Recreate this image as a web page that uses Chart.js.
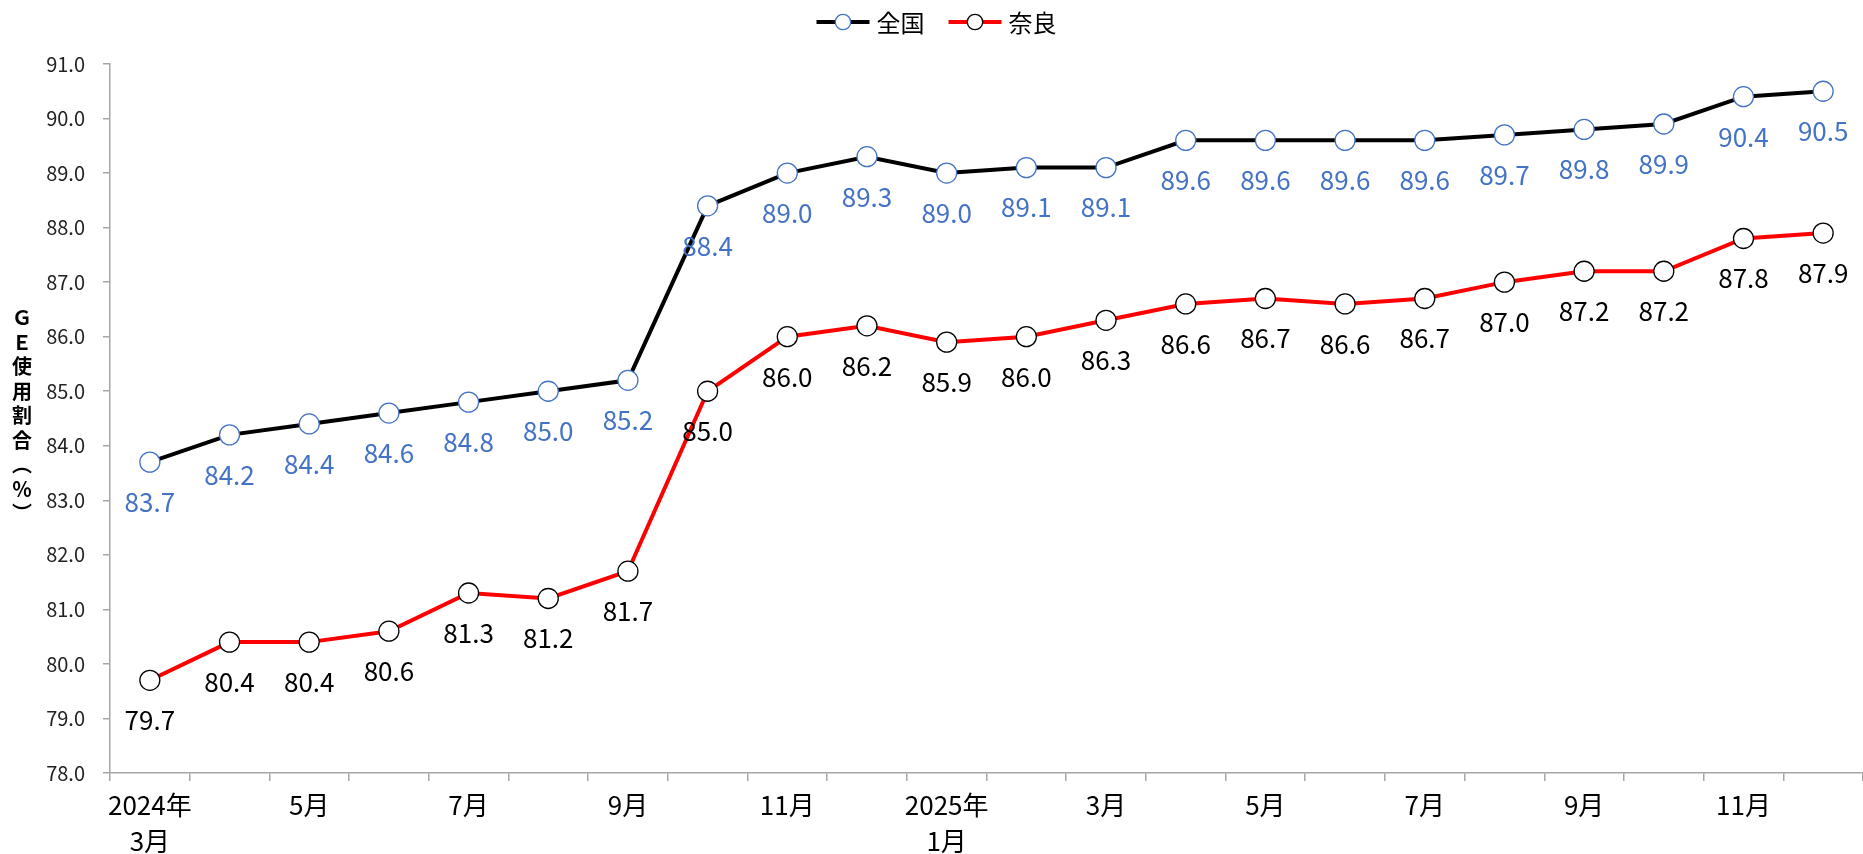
<!DOCTYPE html>
<html>
<head>
<meta charset="utf-8">
<script src="https://cdn.jsdelivr.net/npm/chart.js@4.4.1/dist/chart.umd.min.js"></script>
<style>
  html, body { margin: 0; padding: 0; background: #fff; }
  canvas { display: block; }
</style>
</head>
<body>
<canvas id="geChart" width="1863" height="854"></canvas>
<script>
/******************** DATA ********************/
const MONTH_LABELS = [
  ["2024年", "3月"], "", "5月", "", "7月", "", "9月", "", "11月", "",
  ["2025年", "1月"], "", "3月", "", "5月", "", "7月", "", "9月", "", "11月", ""
];

const ZENKOKU = [83.7, 84.2, 84.4, 84.6, 84.8, 85.0, 85.2, 88.4, 89.0, 89.3, 89.0,
                 89.1, 89.1, 89.6, 89.6, 89.6, 89.6, 89.7, 89.8, 89.9, 90.4, 90.5];
const NARA    = [79.7, 80.4, 80.4, 80.6, 81.3, 81.2, 81.7, 85.0, 86.0, 86.2, 85.9,
                 86.0, 86.3, 86.6, 86.7, 86.6, 86.7, 87.0, 87.2, 87.2, 87.8, 87.9];

const Y_MIN = 78, Y_MAX = 91;
const Y_TITLE = ["Ｇ", "Ｅ", "使", "用", "割", "合", "︵", "％", "︶"];

/******************** STYLE ********************/
const FONT = "'Noto Sans CJK JP', 'Noto Sans', sans-serif";
const AXIS_GREY = "#a6a6a6";
const BLUE = "#4472c4";

/******************** PLUGINS ********************/
// value labels under each point
const valueLabels = {
  id: "valueLabels",
  afterDatasetsDraw(chart) {
    const ctx = chart.ctx;
    ctx.save();
    ctx.font = "26px " + FONT;
    ctx.textAlign = "center";
    ctx.textBaseline = "middle";
    chart.data.datasets.forEach((ds, i) => {
      const meta = chart.getDatasetMeta(i);
      ctx.fillStyle = ds.labelColor;
      meta.data.forEach((pt, j) => {
        ctx.fillText(ds.data[j].toFixed(1), pt.x, pt.y + 40);
      });
    });
    ctx.restore();
  }
};

// legend: line + circle marker, centred on top
const lineLegend = {
  id: "lineLegend",
  afterDraw(chart) {
    const ctx = chart.ctx;
    ctx.save();
    ctx.font = "24px " + FONT;
    ctx.textBaseline = "middle";
    const y = 22;
    const lineLen = 53, gapText = 7, gapItem = 24;
    const items = chart.data.datasets.map(ds => ({
      ds, w: lineLen + gapText + ctx.measureText(ds.label).width
    }));
    const total = items.reduce((s, it) => s + it.w, 0) + gapItem * (items.length - 1);
    let x = chart.width / 2 + 5 - total / 2;
    items.forEach(it => {
      ctx.strokeStyle = it.ds.borderColor;
      ctx.lineWidth = 4;
      ctx.beginPath();
      ctx.moveTo(x, y);
      ctx.lineTo(x + lineLen, y);
      ctx.stroke();
      ctx.beginPath();
      ctx.arc(x + lineLen / 2, y, 7.7, 0, Math.PI * 2);
      ctx.fillStyle = "#fff";
      ctx.fill();
      ctx.lineWidth = 1.3;
      ctx.strokeStyle = it.ds.pointBorderColor;
      ctx.stroke();
      ctx.fillStyle = "#000";
      ctx.fillText(it.ds.label, x + lineLen + gapText, y + 1);
      x += it.w + gapItem;
    });
    ctx.restore();
  }
};

// vertical y-axis title, one character per row
const verticalTitle = {
  id: "verticalTitle",
  afterDraw(chart) {
    const ctx = chart.ctx;
    const area = chart.chartArea;
    ctx.save();
    ctx.font = "bold 20px " + FONT;
    ctx.fillStyle = "#000";
    ctx.textAlign = "center";
    ctx.textBaseline = "middle";
    const step = 24.5;
    const cy = (area.top + area.bottom) / 2 - 3;
    const y0 = cy - step * (Y_TITLE.length - 1) / 2;
    Y_TITLE.forEach((ch, i) => ctx.fillText(ch, 22, y0 + i * step));
    ctx.restore();
  }
};

/******************** CHART ********************/
new Chart(document.getElementById("geChart"), {
  type: "line",
  data: {
    labels: MONTH_LABELS,
    datasets: [
      {
        label: "全国",
        data: ZENKOKU,
        borderColor: "#000",
        borderWidth: 4,
        pointRadius: 10,
        pointBorderWidth: 1.3,
        pointBackgroundColor: "#fff",
        pointBorderColor: BLUE,
        labelColor: BLUE,
        tension: 0
      },
      {
        label: "奈良",
        data: NARA,
        borderColor: "#ff0000",
        borderWidth: 4,
        pointRadius: 10,
        pointBorderWidth: 1.3,
        pointBackgroundColor: "#fff",
        pointBorderColor: "#000",
        labelColor: "#000",
        tension: 0
      }
    ]
  },
  options: {
    responsive: false,
    animation: false,
    layout: {
      autoPadding: false,
      padding: { top: 64, left: 0, right: 0, bottom: 0 }
    },
    plugins: {
      legend: { display: false },
      tooltip: { enabled: false }
    },
    scales: {
      x: {
        offset: true,
        grid: {
          offset: true,
          drawOnChartArea: false,
          drawTicks: true,
          tickLength: 8,
          color: AXIS_GREY,
          lineWidth: 1.5
        },
        border: { color: AXIS_GREY, width: 1.5 },
        ticks: {
          autoSkip: false,
          maxRotation: 0,
          padding: 6,
          color: "#000",
          font: { family: FONT, size: 26, lineHeight: 1.4 }
        },
        afterFit(scale) { scale.height = 81; }
      },
      y: {
        min: Y_MIN,
        max: Y_MAX,
        grid: {
          drawOnChartArea: false,
          drawTicks: true,
          tickLength: 7,
          color: AXIS_GREY,
          lineWidth: 1.5
        },
        border: { color: AXIS_GREY, width: 1.5 },
        ticks: {
          stepSize: 1,
          padding: 18,
          color: "#222",
          font: { family: FONT, size: 20 },
          callback: v => v.toFixed(1)
        },
        afterFit(scale) { scale.width = 110; }
      }
    }
  },
  plugins: [valueLabels, lineLegend, verticalTitle]
});
</script>
</body>
</html>
